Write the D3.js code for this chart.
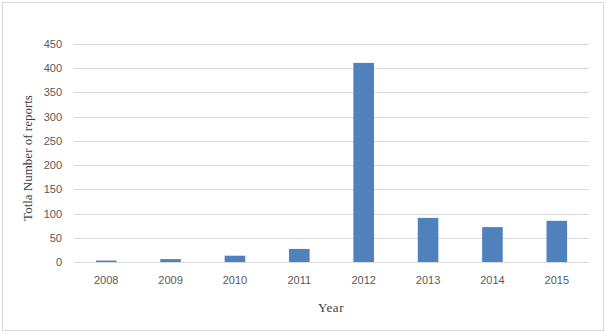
<!DOCTYPE html>
<html>
<head>
<meta charset="utf-8">
<script src="https://cdn.jsdelivr.net/npm/d3@7"></script>
<style>
  body { margin: 0; background: #fff; }
  svg { display: block; }
</style>
</head>
<body>
<svg width="607" height="334"></svg>
<script>
(function () {
  'use strict';

  // chart values
  var years = ["2008", "2009", "2010", "2011", "2012", "2013", "2014", "2015"];
  var reports = [3, 6, 13, 27, 411, 91, 72, 85];
  var yTicks = [0, 50, 100, 150, 200, 250, 300, 350, 400, 450];

  var svg = d3.select("svg"),
      margin = {top: 44, right: 18, bottom: 72, left: 74},
      width = 607 - margin.left - margin.right,
      height = 334 - margin.top - margin.bottom;

  // outer chart border
  svg.append("rect")
      .attr("x", 2.5).attr("y", 2.5)
      .attr("width", 601).attr("height", 328)
      .attr("fill", "#fff")
      .attr("stroke", "#d9d9d9");

  var g = svg.append("g")
      .attr("transform", "translate(" + margin.left + "," + margin.top + ")");

  var x = d3.scaleBand()
      .domain(years)
      .range([0, width])
      .paddingInner(0.68)
      .paddingOuter(0.34);

  var y = d3.scaleLinear()
      .domain([0, 450])
      .range([height, 0]);

  //gridlines
  g.append("g")
    .selectAll("line")
    .data(yTicks)
    .enter().append("line")
      .attr("x1", 0)
      .attr("x2", width)
      .attr("y1", function(d) { return Math.round(y(d)) + 0.5; })
      .attr("y2", function(d) { return Math.round(y(d)) + 0.5; })
      .attr("stroke", "#d9d9d9")
      .attr("stroke-width", 1);

  //bars
  g.append("g")
    .selectAll("rect")
    .data(reports)
    .enter().append("rect")
      .attr("x", function(d, i) { return x(years[i]); })
      .attr("y", function(d) { return y(d); })
      .attr("width", x.bandwidth())
      .attr("height", function(d) { return height - y(d); })
      .attr("fill", "#4f81bd");

  // y tick labels
  var yAxis = g.append("g")
      .call(d3.axisLeft(y).tickValues(yTicks).tickSize(0).tickPadding(12));
  yAxis.select(".domain").remove();
  yAxis.selectAll("text")
      .attr("font-family", "Liberation Sans, Arial, sans-serif")
      .attr("font-size", 11)
      .attr("fill", "#595959");

  // x tick labels
  var xAxis = g.append("g")
      .attr("transform", "translate(0," + height + ")")
      .call(d3.axisBottom(x).tickSize(0).tickPadding(14));
  xAxis.select(".domain").remove();
  xAxis.selectAll("text")
      .attr("font-family", "Liberation Sans, Arial, sans-serif")
      .attr("font-size", 11)
      .attr("fill", "#595959");

  // axis titles
  svg.append("text")
      .attr("x", 331)
      .attr("y", 312)
      .attr("text-anchor", "middle")
      .attr("font-family", "Liberation Serif, Times New Roman, serif")
      .attr("font-size", 13)
      .attr("letter-spacing", 0.5)
      .attr("fill", "#404040")
      .text("Year");

  svg.append("text")
      .attr("transform", "translate(32,158) rotate(-90)")
      .attr("text-anchor", "middle")
      .attr("font-family", "Liberation Serif, Times New Roman, serif")
      .attr("font-size", 13)
      .attr("fill", "#404040")
      .text("Totla Number of reports");

}());
</script>
</body>
</html>
